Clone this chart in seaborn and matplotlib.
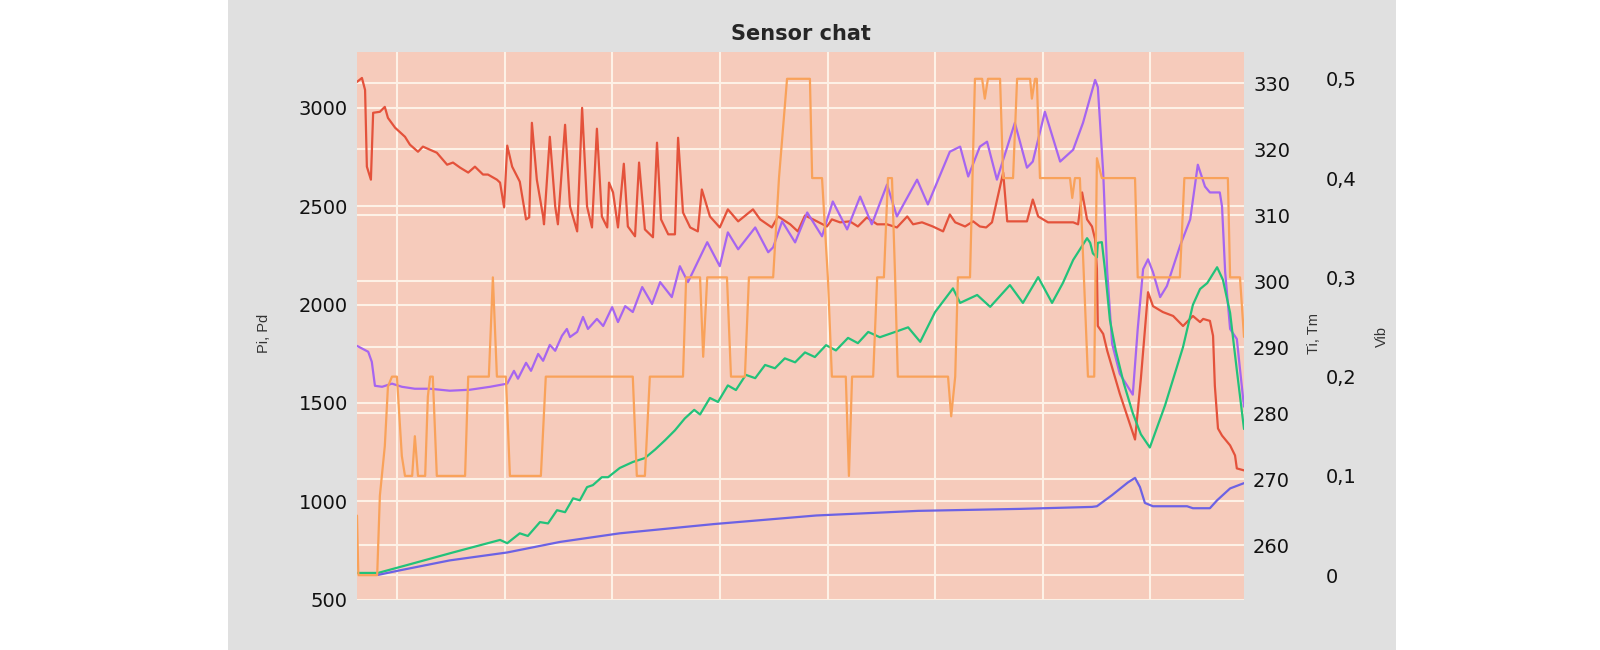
import numpy as np
import pandas as pd
import seaborn as sns
import matplotlib.pyplot as plt
import matplotlib.dates as mdates
from matplotlib.patches import Rectangle
from matplotlib.ticker import FuncFormatter


# sensor log, time in hours since the first sample
pi_t = [0, 1.1, 1.8, 2.2, 3.1, 3.6, 5.1, 6.2, 6.9, 8.5,
        10.7, 11.8, 13.6, 14.7, 17.8, 20.1, 21.4, 23.0, 24.8, 26.3,
        28.1, 29.2, 31.2, 31.9, 32.8, 33.5, 34.6, 36.3, 37.7, 38.4,
        39.0, 40.1, 41.5, 41.7, 43.0, 44.2, 44.8, 46.4, 47.5, 49.1,
        50.2, 51.3, 52.4, 53.5, 54.6, 55.8, 56.2, 57.1, 58.2, 59.5,
        60.4, 62.0, 62.9, 64.2, 66.0, 66.9, 67.8, 69.4, 70.9, 71.6,
        72.7, 74.3, 76.0, 76.9, 78.7, 80.9, 82.7, 85.0, 88.3, 89.9,
        92.5, 93.9, 96.6, 98.3, 99.9, 101.7, 104.8, 105.9, 107.7, 109.9,
        111.7, 113.7, 116.0, 118.2, 120.4, 122.7, 124.0, 126.0, 128.4, 130.7,
        132.2, 133.4, 135.6, 137.4, 138.9, 140.3, 141.6, 144.1, 145.0, 147.2,
        149.4, 150.7, 151.9, 154.1, 156.8, 159.7, 160.8, 161.7, 162.8, 163.9,
        164.6, 165.0, 165.2, 166.4, 167.3, 170.1, 173.5, 174.8, 176.4, 177.5,
        179.7, 182.0, 184.2, 186.4, 188.0, 188.7, 190.2, 190.9, 191.3, 192.0,
        192.9, 194.7, 195.8, 196.2, 197.8]
pi_v = [3132, 3152, 3091, 2701, 2635, 2975, 2980, 3005, 2949, 2899,
        2853, 2813, 2777, 2803, 2772, 2711, 2722, 2696, 2671, 2701,
        2661, 2661, 2635, 2620, 2494, 2808, 2701, 2625, 2433, 2443,
        2924, 2635, 2448, 2408, 2853, 2499, 2408, 2914, 2499, 2372,
        3000, 2499, 2392, 2894, 2448, 2392, 2620, 2570, 2392, 2716,
        2397, 2347, 2722, 2382, 2342, 2823, 2433, 2357, 2357, 2848,
        2468, 2392, 2372, 2585, 2448, 2392, 2484, 2423, 2484, 2433,
        2392, 2448, 2408, 2372, 2453, 2433, 2397, 2433, 2418, 2423,
        2397, 2443, 2408, 2408, 2392, 2448, 2408, 2418, 2397, 2372,
        2458, 2418, 2397, 2423, 2397, 2392, 2418, 2671, 2423, 2423,
        2423, 2534, 2448, 2418, 2418, 2418, 2408, 2570, 2433, 2397,
        2332, 2180, 1891, 1851, 1765, 1547, 1314, 1623, 2063, 1992,
        1962, 1942, 1891, 1942, 1911, 1927, 1917, 1841, 1587, 1370,
        1334, 1284, 1233, 1167, 1157]

pd_t = [0, 2.5, 3.3, 4.0, 5.6, 7.8, 10.0, 12.9, 16.3, 20.7,
        25.2, 29.7, 33.5, 35.0, 35.9, 37.7, 38.8, 40.4, 41.5, 43.0,
        44.2, 45.7, 46.8, 47.5, 49.1, 50.4, 51.5, 53.5, 54.9, 56.9,
        58.2, 59.8, 61.5, 63.6, 65.8, 67.6, 70.2, 72.0, 73.8, 78.1,
        80.9, 82.7, 85.0, 88.8, 91.7, 92.8, 94.8, 97.7, 100.4, 103.7,
        106.1, 109.3, 112.2, 114.8, 118.2, 120.4, 124.9, 127.3, 132.2, 134.5,
        136.3, 138.9, 140.5, 142.7, 146.7, 149.4, 150.7, 153.4, 156.8, 159.7,
        161.9, 164.6, 165.2, 166.4, 167.3, 168.4, 170.1, 173.0, 174.1, 175.3,
        176.4, 177.5, 179.1, 180.6, 183.5, 185.8, 187.5, 189.1, 190.2, 192.4,
        192.9, 193.6, 194.7, 196.2, 196.9, 197.8]
pd_v = [1790, 1760, 1709, 1587, 1582, 1598, 1582, 1572, 1572, 1562,
        1567, 1582, 1598, 1663, 1623, 1704, 1663, 1749, 1714, 1795,
        1765, 1841, 1876, 1835, 1861, 1937, 1876, 1927, 1891, 1987,
        1911, 1992, 1962, 2089, 2003, 2114, 2038, 2195, 2114, 2317,
        2195, 2367, 2281, 2392, 2266, 2291, 2423, 2316, 2468, 2347,
        2524, 2382, 2549, 2408, 2610, 2448, 2635, 2509, 2777, 2803,
        2651, 2803, 2828, 2635, 2924, 2696, 2727, 2980, 2727, 2787,
        2924, 3142, 3106, 2671, 2165, 1800, 1648, 1542, 1876, 2180,
        2230, 2165, 2038, 2094, 2296, 2433, 2711, 2600, 2570, 2570,
        2499, 2165, 1876, 1825, 1673, 1481]

tm_t = [0, 4.7, 11.2, 21.4, 31.9, 33.5, 36.3, 38.1, 40.8, 42.6,
        44.6, 46.4, 48.2, 49.7, 51.3, 52.6, 54.6, 56.0, 58.6, 61.5,
        64.2, 66.5, 68.7, 70.9, 73.1, 75.2, 76.5, 78.7, 80.5, 82.7,
        84.5, 86.7, 88.8, 91.0, 93.2, 95.4, 97.7, 99.9, 102.1, 104.6,
        106.8, 109.5, 111.7, 114.0, 116.6, 120.0, 122.9, 125.6, 128.9, 132.9,
        134.5, 138.3, 141.2, 145.6, 148.5, 151.9, 155.0, 157.4, 159.7, 162.8,
        163.5, 164.1, 165.0, 165.2, 166.1, 166.8, 167.9, 169.2, 171.0, 173.0,
        174.8, 176.8, 180.2, 184.2, 186.4, 188.0, 189.6, 191.8, 193.1, 194.7,
        196.2, 197.8]
tm_v = [255.8, 255.8, 257.0, 258.9, 260.8, 260.3, 261.8, 261.4, 263.5, 263.3,
        265.3, 265.0, 267.1, 266.8, 268.8, 269.1, 270.3, 270.3, 271.7, 272.6,
        273.2, 274.5, 275.9, 277.4, 279.2, 280.5, 279.8, 282.3, 281.7, 284.2,
        283.5, 285.8, 285.3, 287.3, 286.8, 288.3, 287.7, 289.2, 288.5, 290.3,
        289.5, 291.4, 290.6, 292.3, 291.5, 292.3, 293.0, 290.8, 295.3, 298.9,
        296.7, 297.9, 296.1, 299.4, 296.7, 300.6, 296.7, 299.7, 303.2, 306.5,
        305.8, 304.2, 303.6, 305.8, 305.9, 301.7, 294.1, 289.5, 284.5, 280.0,
        276.8, 274.8, 281.2, 290.0, 296.4, 298.8, 299.7, 302.1, 300.2, 295.2,
        286.5, 277.6]

ti_t = [4.7, 9.6, 20.7, 33.5, 45.3, 58.6, 79.6, 102.4, 125.1, 147.8,
        163.9, 165.0, 168.4, 171.9, 173.5, 174.6, 175.7, 177.5, 185.1, 186.4,
        190.2, 191.8, 194.7, 197.8]
ti_v = [255.5, 256.2, 257.7, 258.9, 260.5, 261.8, 263.2, 264.5, 265.2, 265.5,
        265.8, 265.9, 267.6, 269.5, 270.2, 268.8, 266.4, 265.9, 265.9, 265.6,
        265.6, 266.8, 268.6, 269.4]

vib_t = [0, 0.3, 4.5, 5.1, 6.2, 6.9, 7.8, 8.9, 10.0, 10.7,
         12.3, 12.9, 13.6, 15.2, 15.8, 16.3, 16.9, 17.8, 24.1, 24.8,
         29.4, 30.3, 31.2, 33.2, 34.1, 41.0, 42.1, 61.5, 62.4, 64.2,
         65.3, 72.7, 73.4, 76.5, 77.2, 78.1, 82.5, 83.4, 86.5, 87.4,
         92.8, 94.1, 95.9, 101.0, 101.5, 103.7, 105.0, 105.9, 109.0, 109.7,
         110.4, 115.1, 116.0, 117.5, 118.4, 119.3, 120.0, 120.6, 131.8, 132.5,
         133.4, 134.0, 136.7, 137.8, 139.4, 140.0, 140.7, 143.4, 144.1, 146.3,
         147.2, 150.1, 150.5, 151.2, 151.6, 152.3, 159.0, 159.5, 160.1, 161.2,
         163.0, 164.4, 165.0, 166.1, 173.5, 174.1, 183.5, 184.5, 194.2, 194.7,
         196.9, 197.8]
vib_v = [0.06, 0.0, 0.0, 0.08, 0.13, 0.19, 0.2, 0.2, 0.12, 0.1,
         0.1, 0.14, 0.1, 0.1, 0.18, 0.2, 0.2, 0.1, 0.1, 0.2,
         0.2, 0.3, 0.2, 0.2, 0.1, 0.1, 0.2, 0.2, 0.1, 0.1,
         0.2, 0.2, 0.3, 0.3, 0.22, 0.3, 0.3, 0.2, 0.2, 0.3,
         0.3, 0.4, 0.5, 0.5, 0.4, 0.4, 0.3, 0.2, 0.2, 0.1,
         0.2, 0.2, 0.3, 0.3, 0.4, 0.4, 0.3, 0.2, 0.2, 0.16,
         0.2, 0.3, 0.3, 0.5, 0.5, 0.48, 0.5, 0.5, 0.4, 0.4,
         0.5, 0.5, 0.48, 0.5, 0.5, 0.4, 0.4, 0.38, 0.4, 0.4,
         0.2, 0.2, 0.42, 0.4, 0.4, 0.3, 0.3, 0.4, 0.4, 0.3,
         0.3, 0.24]

p_ticks = [500, 1000, 1500, 2000, 2500, 3000]
t_ticks = [260, 270, 280, 290, 300, 310, 320, 330]
v_ticks = [0, 0.1, 0.2, 0.3, 0.4, 0.5]

t0 = pd.Timestamp("2021-03-01 15:04")
t_end = t0 + pd.Timedelta(hours=197.8)


def when(hours):
    return t0 + pd.to_timedelta(hours, unit="h")


sns.set_style("white")
plt.rcParams["font.family"] = ["DejaVu Sans"]

GRID = "#fdf1e6"
lw = 1.6

fig = plt.figure(figsize=(16, 6.5), dpi=100)
fig.add_artist(Rectangle((228 / 1600, 0), 1168 / 1600, 1, transform=fig.transFigure,
                         facecolor="#e0e0e0", edgecolor="none", zorder=-1))

ax = fig.add_axes([357 / 1600, 50 / 650, 887 / 1600, 548 / 650])
ax.set_facecolor("#f6cbbb")
ax2 = ax.twinx()
ax3 = ax.twinx()
ax3.spines["right"].set_position(("outward", 52.5))

sns.lineplot(x=when(pi_t), y=pi_v, ax=ax, color="#e4523b", linewidth=lw, estimator=None)
sns.lineplot(x=when(pd_t), y=pd_v, ax=ax, color="#a665f0", linewidth=lw, estimator=None)
sns.lineplot(x=when(tm_t), y=tm_v, ax=ax2, color="#22c27a", linewidth=lw, estimator=None)
sns.lineplot(x=when(ti_t), y=ti_v, ax=ax2, color="#6c62e4", linewidth=lw, estimator=None)
sns.lineplot(x=when(vib_t), y=vib_v, ax=ax3, color="#f9a25a", linewidth=lw, estimator=None)

ax.set_xlim(t0, t_end)
ax.set_ylim(498, 3284)
ax2.set_ylim(251.7, 334.7)
ax3.set_ylim(-0.025, 0.527)

ax.set_yticks(p_ticks)
ax2.set_yticks(t_ticks)
ax3.set_yticks(v_ticks)
ax3.yaxis.set_major_formatter(FuncFormatter(lambda v, p: f"{v:g}".replace(".", ",")))

ax.xaxis.set_major_locator(mdates.DayLocator())
ax.set_axisbelow(True)
ax.grid(True, axis="both", color=GRID, linewidth=1.5)
# gridlines of the temperature axis and the zero of Vib, drawn under every line
lo, hi = ax.get_ylim()
tlo, thi = ax2.get_ylim()
for t in t_ticks:
    ax.axhline(lo + (t - tlo) / (thi - tlo) * (hi - lo), color=GRID, linewidth=1.5, zorder=0.8)
vlo, vhi = ax3.get_ylim()
ax.axhline(lo + (0 - vlo) / (vhi - vlo) * (hi - lo), color=GRID, linewidth=1.5, zorder=0.8)

for a in (ax, ax2, ax3):
    for s in a.spines.values():
        s.set_visible(False)
    a.tick_params(axis="y", length=0, pad=6.5, labelsize=14, labelcolor="#111111")
    a.set_xlabel("")
ax.tick_params(axis="x", length=0, labelbottom=False)

lab = dict(fontsize=10.5, family=["Liberation Sans", "DejaVu Sans"], color="#333333")
ax.set_ylabel("Pi, Pd", **lab)
ax.yaxis.set_label_coords(-0.097, 0.487)
ax2.set_ylabel("Ti, Tm", **lab)
ax2.yaxis.set_label_coords(1.071, 0.487)
ax3.set_ylabel("Vib", **lab)
ax3.yaxis.set_label_coords(1.148, 0.48)

ax.set_title("Sensor chat", fontsize=15, fontweight="bold", pad=9)

fig.savefig("out.png", dpi=100)
